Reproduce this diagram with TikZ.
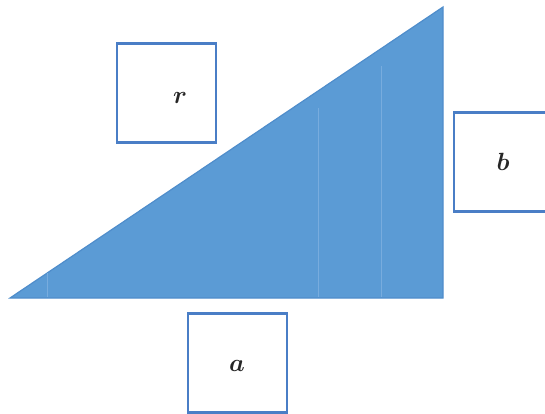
\documentclass[tikz,border=0pt]{standalone}
\begin{document}
\begin{tikzpicture}[x=1pt,y=-1pt,
  lbox/.style={draw=boxblue,line width=2.3pt,fill=white,minimum width=99pt,minimum height=99pt,inner sep=0pt},
  lbl/.style={font=\fontsize{29}{33}\selectfont\boldmath,inner sep=0pt,text=black!85}]
\definecolor{triblue}{HTML}{5B9BD5}
\definecolor{triedge}{HTML}{4F8DCB}
\definecolor{boxblue}{HTML}{4A7EC6}
\definecolor{streak}{HTML}{78ACDE}
\useasboundingbox (0,0) rectangle (545,414);
% triangle
\coordinate (A) at (10,298);
\coordinate (B) at (443,298);
\coordinate (C) at (443,7);
\fill[triblue,draw=triedge,line width=1.2pt,line join=miter] (A) -- (B) -- (C) -- cycle;
% faint scan streaks
\draw[streak,line width=0.8pt] (47,273) -- (47,297);
\draw[streak,line width=0.8pt] (318,108) -- (318,297);
\draw[streak,line width=0.8pt] (381,66) -- (381,297);
% boxes
\node[lbox] (rbox) at (166.5,93) {};
\node[lbl] (r) at (180,98) {$r$};
\node[lbox,minimum width=110pt,anchor=west] (bbox) at (453,162) {};
\node[lbl] (b) at (503,162) {$b$};
\node[lbox] (abox) at (237.5,363) {};
\node[lbl] (a) at (237,366) {$a$};
\end{tikzpicture}
\end{document}
